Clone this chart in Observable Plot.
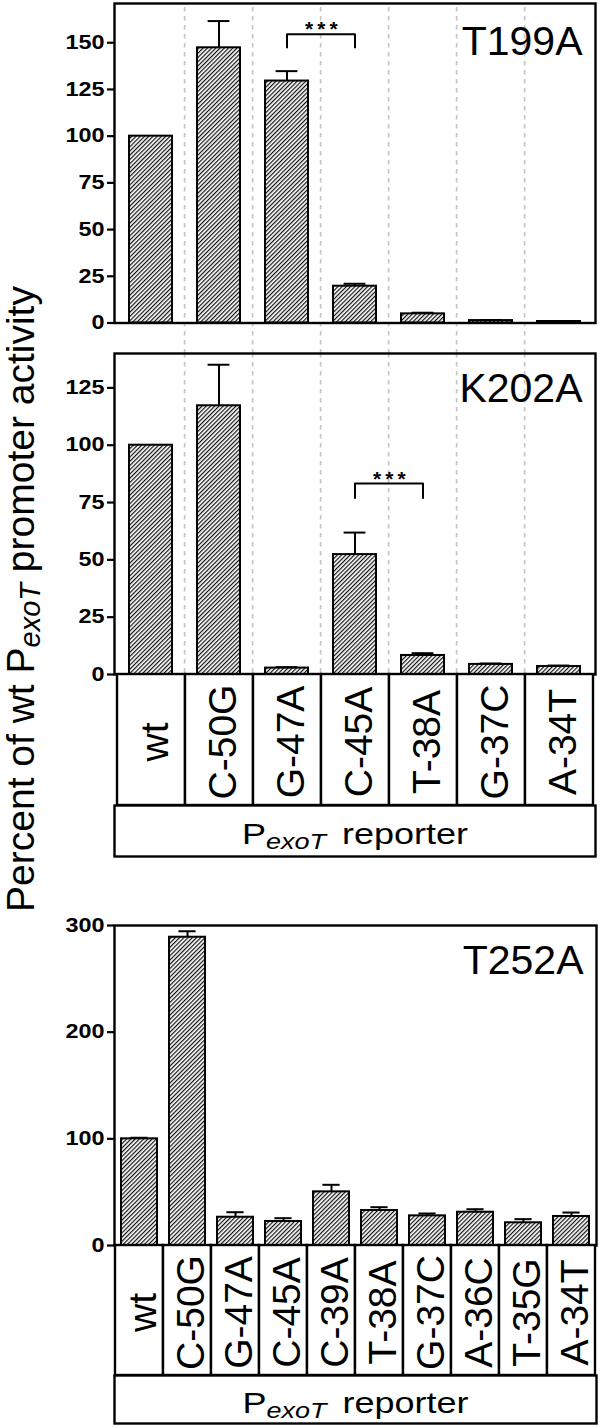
<!DOCTYPE html>
<html>
<head>
<meta charset="utf-8">
<script src="https://cdn.jsdelivr.net/npm/d3@7"></script>
<script src="https://cdn.jsdelivr.net/npm/@observablehq/plot@0.6"></script>
<style>
  body { margin: 0; background: #fff; }
  #chart { position: relative; width: 600px; height: 1428px; overflow: hidden; background: #fff; }
  #chart svg { position: absolute; left: 0; overflow: visible; background: none !important; max-width: none !important; }
  #chart g[aria-label="y-axis tick"], #chart g[aria-label="y-axis"] .tick line { stroke-width: 2.2px; stroke: #000; }
  #chart g[aria-label="y-axis tick label"] text, #chart g[aria-label="y-axis"] .tick text {
    font-family: "Liberation Sans", Arial, Helvetica, sans-serif; font-weight: bold; font-size: 19.5px; fill: #000;
  }
  #chart svg.labelrow g[aria-label="text"] text { font-size: 39px; }
</style>
</head>
<body>
<svg width="0" height="0" style="position:absolute">
  <defs>
    <pattern id="hatch" patternUnits="userSpaceOnUse" width="3" height="3" patternTransform="rotate(45)">
      <rect width="3" height="3" fill="#fff"></rect>
      <line x1="0.6" y1="0" x2="0.6" y2="3" stroke="#111" stroke-width="1.25"></line>
    </pattern>
  </defs>
</svg>
<div id="chart"></div>
<script>
// ---------- data ----------
const cats7 = ["wt", "C-50G", "G-47A", "C-45A", "T-38A", "G-37C", "A-34T"];
const t199aValues = [100, 147.3, 129.5, 19.7, 4.9, 1.3, 0.8];
const t199aErrors = [0, 14.3, 5.3, 1.3, 0.6, 0.3, 0.2];
const t199aTicks = [0, 25, 50, 75, 100, 125, 150];
const t199aBracket = {from: "G-47A", to: "C-45A", top: 154.6, leg: 147.5, label: "***"};

const k202aValues = [100, 117.2, 2.8, 52.3, 8.3, 4.4, 3.5];
const k202aErrors = [0, 17.9, 0.4, 9.6, 1.0, 0.4, 0.4];
const k202aTicks = [0, 25, 50, 75, 100, 125];
const k202aBracket = {from: "C-45A", to: "T-38A", top: 83.3, leg: 77, label: "***"};

const cats10 = ["wt", "C-50G", "G-47A", "C-45A", "C-39A", "T-38A", "G-37C", "A-36C", "T-35G", "A-34T"];
const t252aValues = [100, 289, 26.5, 22.5, 50.3, 32.8, 27.8, 31.2, 21.3, 27.2];
const t252aErrors = [1, 5.6, 4.7, 3.1, 6.6, 3.1, 2.2, 2.8, 3.4, 3.7];
const t252aTicks = [0, 100, 200, 300];

const panelNames = ["T199A", "K202A", "T252A"];
const yTitleParts = ["Percent of wt P", "exoT", " promoter activity"];
const reporterParts = ["P", "exoT", " reporter"];

// ---------- helpers ----------
const W = 600, ML = 114;
const sans = '"Liberation Sans", Arial, Helvetica, sans-serif';
const chart = document.getElementById("chart");
const baseStyle = {background: "none", overflow: "visible", color: "#000"};

function place(svg, top) {
  svg.style.top = top + "px";
  svg.style.left = "0px";
  chart.appendChild(svg);
  return svg;
}

function stretchX(t, sx) {
  const tr = t.getAttribute("transform") || "";
  const x = parseFloat(t.getAttribute("x")) || 0;
  t.setAttribute("transform", `${tr} translate(${x},0) scale(${sx},1) translate(${-x},0)`);
}

function panel(o) {
  const n = o.cats.length;
  const step = (W - ML - o.mr) / n;
  const data = o.cats.map((c, i) => ({cat: c, value: o.values[i], err: o.errors[i]}));
  const withErr = data.filter(d => d.err > 0);
  const marks = [];
  if (o.dashed) {
    marks.push(Plot.ruleX(o.cats.slice(1), {
      x: d => d, dx: -step / 2, stroke: "#c6c6c6", strokeWidth: 1.7,
      strokeDasharray: "4.5,4.5", insetTop: o.dashTop, insetBottom: o.dashBottom
    }));
  }
  marks.push(Plot.barY(data, {x: "cat", y: "value", fill: "url(#hatch)", stroke: "#000", strokeWidth: 2}));
  marks.push(Plot.ruleX(withErr, {x: "cat", y1: "value", y2: d => d.value + d.err, stroke: "#000", strokeWidth: 2}));
  marks.push(Plot.tickY(withErr, {x: "cat", y: d => d.value + d.err, stroke: "#000", strokeWidth: 2,
    insetLeft: o.capInset, insetRight: o.capInset}));
  if (o.bracket) {
    const b = o.bracket;
    const pts = [{x: b.from, y: b.leg}, {x: b.from, y: b.top}, {x: b.to, y: b.top}, {x: b.to, y: b.leg}];
    marks.push(Plot.line(pts, {x: "x", y: "y", stroke: "#000", strokeWidth: 2}));
    marks.push(Plot.text([b], {x: "from", y: "top", text: "label", dx: step / 2 + 2, dy: 2, lineAnchor: "bottom",
      fontSize: 21, fontWeight: "bold", fontFamily: sans, fill: "#000"}));
  }
  marks.push(Plot.frame({stroke: "#000", strokeWidth: 2.4}));
  marks.push(Plot.text([o.name], {text: d => d, frameAnchor: "top-right", textAnchor: "end", lineAnchor: "bottom",
    dx: -13, dy: o.nameDy, fontSize: 41, fontFamily: sans, fill: "#000"}));
  const svg = Plot.plot({
    width: W, height: o.height,
    marginLeft: ML, marginRight: o.mr, marginTop: o.mt, marginBottom: o.mb,
    x: {type: "band", domain: o.cats, paddingInner: o.padInner, paddingOuter: o.padInner / 2, axis: null},
    y: {domain: o.domain, ticks: o.ticks, tickSize: 7, tickPadding: 3, tickFormat: d => String(d), label: null},
    style: baseStyle,
    marks
  });
  place(svg, o.top);
  // significance stars: spread glyphs a little
  svg.querySelectorAll('g[aria-label="text"] text').forEach(t => {
    if (o.bracket && t.textContent === o.bracket.label) t.style.letterSpacing = "4px";
  });
  return svg;
}

function labelRow(cats, mr, top, h) {
  const svg = Plot.plot({
    width: W, height: h + 4, marginLeft: ML, marginRight: mr, marginTop: 2, marginBottom: 2,
    x: {type: "band", domain: cats, padding: 0, axis: null},
    style: baseStyle,
    marks: [
      Plot.cell(cats, {x: d => d, fill: "#fff", stroke: "#000", strokeWidth: 2.4}),
      Plot.text(cats, {x: d => d, text: d => d, rotate: -90, frameAnchor: "middle", dx: 4, dy: 2,
        fontSize: 39, fontFamily: sans, fill: "#000"})
    ]
  });
  svg.classList.add("labelrow");
  return place(svg, top);
}

function reporterRow(mr, top, h) {
  const svg = Plot.plot({
    width: W, height: h + 4, marginLeft: ML, marginRight: mr, marginTop: 2, marginBottom: 2,
    style: baseStyle,
    marks: [
      Plot.frame({fill: "#fff", stroke: "#000", strokeWidth: 2.4}),
      Plot.text([reporterParts.join("")], {text: d => d, frameAnchor: "middle", lineAnchor: "bottom", dy: 13,
        fontSize: 30, fontFamily: sans, fill: "#000"})
    ]
  });
  place(svg, top);
  const t = svg.querySelector('g[aria-label="text"] text');
  if (t) {
    t.textContent = "";
    const s = d3.select(t);
    s.append("tspan").text(reporterParts[0]);
    s.append("tspan").attr("dy", 5).style("font-style", "italic").style("font-size", "22.5px").text(reporterParts[1]);
    s.append("tspan").attr("dy", -5).attr("dx", 5).text(reporterParts[2]);
    stretchX(t, 1.2);
  }
  return svg;
}

// ---------- build ----------
panel({cats: cats7, values: t199aValues, errors: t199aErrors, ticks: t199aTicks, domain: [0, 171],
  name: panelNames[0], bracket: t199aBracket, top: 0, height: 353, mt: 3, mb: 30.5, mr: 5,
  padInner: 0.37, capInset: 10.6, dashed: true, dashTop: 4, dashBottom: -30.5, nameDy: 51});

panel({cats: cats7, values: k202aValues, errors: k202aErrors, ticks: k202aTicks, domain: [0, 140],
  name: panelNames[1], bracket: k202aBracket, top: 340, height: 340, mt: 13, mb: 6, mr: 5,
  padInner: 0.37, capInset: 10.6, dashed: true, dashTop: 0, dashBottom: 0, nameDy: 48.7});

labelRow(cats7, 5, 672, 131);
reporterRow(5, 803, 51);

panel({cats: cats10, values: t252aValues, errors: t252aErrors, ticks: t252aTicks, domain: [0, 300],
  name: panelNames[2], bracket: null, top: 900, height: 350, mt: 25, mb: 5, mr: 4,
  padInner: 0.245, capInset: 9.4, dashed: false, nameDy: 48.3});

labelRow(cats10, 4, 1243, 130);
reporterRow(4, 1373, 48);

// stretch bold tick labels horizontally (wide numerals)
chart.querySelectorAll('g[aria-label="y-axis tick label"] text, g[aria-label="y-axis"] .tick text')
  .forEach(t => stretchX(t, 1.2));

// y-axis title
const titleSvg = d3.create("svg").attr("width", 60).attr("height", 1428);
const tt = titleSvg.append("text")
  .attr("transform", "translate(34,599) rotate(-90)")
  .attr("text-anchor", "middle")
  .attr("fill", "#000")
  .style("font-family", sans)
  .style("font-size", "39px");
tt.append("tspan").text(yTitleParts[0]);
tt.append("tspan").attr("dy", 6).style("font-style", "italic").style("font-size", "29px").text(yTitleParts[1]);
tt.append("tspan").attr("dy", -6).text(yTitleParts[2]);
place(titleSvg.node(), 0);
</script>
</body>
</html>
